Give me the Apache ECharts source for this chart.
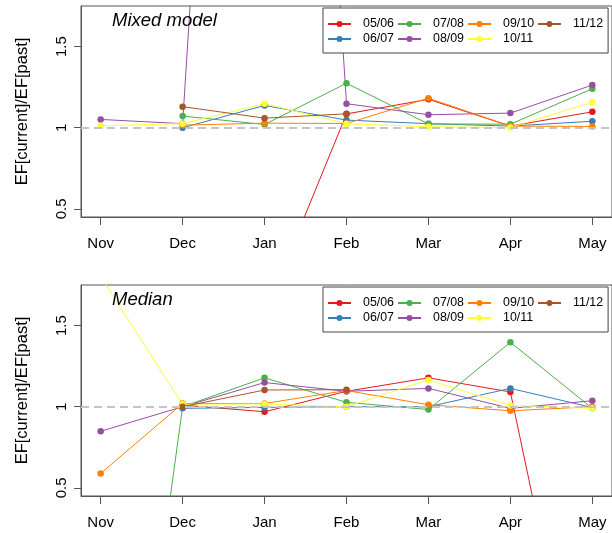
<!DOCTYPE html>
<html><head><meta charset="utf-8">
<script src="https://cdn.jsdelivr.net/npm/echarts@6/dist/echarts.min.js"></script>
<style>html,body{margin:0;padding:0;background:#fff}#c{width:612px;height:533px}</style>
</head><body><div id="c"></div>
<script>
const months = ['Nov','Dec','Jan','Feb','Mar','Apr','May'];
const seasons = ['05/06','06/07','07/08','08/09','09/10','10/11','11/12'];
const colors = ['#E41A1C','#377EB8','#4DAF4A','#984EA3','#FF7F00','#FFFF33','#A65628'];
const legendOrder = ['05/06','07/08','09/10','11/12','06/07','08/09','10/11'];
const yTicks = [0.5, 1, 1.5];
const refLine = 1;
const panelTitles = ['Mixed model', 'Median'];
const yName = 'EF[current]/EF[past]';

// Mixed model panel (Nov..May)
const mixed_0506 = [null, null, -0.15, 1.085, 1.175, 1.01, 1.098];
const mixed_0607 = [null, 1.0, 1.137, 1.047, 1.025, 1.01, 1.04];
const mixed_0708 = [null, 1.072, 1.02, 1.274, 1.023, 1.022, 1.24];
const mixed_0809 = [1.051, 1.025, 9.0, 1.148, 1.08, 1.09, 1.263];
const mixed_0910 = [null, 1.016, 1.028, 1.026, 1.182, 1.01, 1.008];
const mixed_1011 = [1.012, 1.025, 1.148, 1.025, 1.006, 1.002, 1.157];
const mixed_1112 = [null, 1.13, 1.059, 1.086, null, null, null];

// Median panel (Nov..May)
const median_0506 = [null, 1.01, 0.969, 1.095, 1.178, 1.091, -1.3];
const median_0607 = [null, 0.99, 0.996, 1.0, 1.0, 1.113, 0.995];
const median_0708 = [-2.7, 1.0, 1.178, 1.027, 0.983, 1.397, 0.99];
const median_0809 = [0.849, 1.0, 1.149, 1.095, 1.113, 0.99, 1.037];
const median_0910 = [0.589, 1.02, 1.02, 1.10, 1.012, 0.975, 1.0];
const median_1011 = [1.80, 1.015, 1.017, 1.0, 1.165, 1.008, 0.99];
const median_1112 = [null, 1.0, 1.103, 1.105, null, null, null];

const panels = [
  [mixed_0506, mixed_0607, mixed_0708, mixed_0809, mixed_0910, mixed_1011, mixed_1112],
  [median_0506, median_0607, median_0708, median_0809, median_0910, median_1011, median_1112]
];

const FONT = 'Liberation Sans';
const gridTops = [6, 285];
const gridH = 211;
const monthIdx = months.map((m, i) => i);

const grids = [], xAxes = [], yAxes = [], series = [], titles = [], legends = [];
panels.forEach((panel, p) => {
  grids.push({left: 81, right: -2, top: gridTops[p], height: gridH, show: true,
    borderColor: '#555', borderWidth: 1, backgroundColor: 'transparent'});
  xAxes.push({type: 'value', gridIndex: p, min: -0.24, max: 6.24, position: 'bottom',
    axisLine: {show: true, onZero: false, lineStyle: {color: '#555', width: 1}}, splitLine: {show: false},
    axisTick: {show: true, customValues: monthIdx, length: 8, lineStyle: {color: '#555'}},
    axisLabel: {customValues: monthIdx, formatter: v => months[Math.round(v)],
      margin: 19, fontSize: 15, color: '#000', fontFamily: FONT}});
  yAxes.push({type: 'value', gridIndex: p, min: 0.45, max: 1.75, position: 'left',
    axisLine: {show: true, onZero: false, lineStyle: {color: '#555', width: 1}}, splitLine: {show: false},
    axisTick: {show: true, customValues: yTicks, length: 7, lineStyle: {color: '#555'}},
    axisLabel: {customValues: yTicks, rotate: 90, margin: 12, fontSize: 15, color: '#000',
      fontFamily: FONT, formatter: v => String(v)},
    name: yName, nameLocation: 'middle', nameGap: 50, nameRotate: 90,
    nameTextStyle: {fontSize: 16.5, color: '#000', fontFamily: FONT}});
  titles.push({text: panelTitles[p], left: 112, top: gridTops[p] + 5, padding: 0,
    textStyle: {fontSize: 18.5, fontStyle: 'italic', fontWeight: 'normal', color: '#000', fontFamily: FONT}});
  legends.push({data: legendOrder, left: 323, top: gridTops[p] + 2, width: 300,
    orient: 'horizontal', itemWidth: 23, itemHeight: 7.5, itemGap: 3,
    padding: [10, 5, 8, 4], borderColor: '#444', borderWidth: 1, backgroundColor: '#fff',
    selectedMode: false,
    textStyle: {fontSize: 12.4, color: '#000', fontFamily: FONT, padding: [0, 0, 0, 7]}});
  panel.forEach((vals, s) => {
    const ser = {
      type: 'line', name: seasons[s], xAxisIndex: p, yAxisIndex: p,
      data: vals.map((v, i) => [i, v]),
      symbol: 'circle', symbolSize: 6.5, showSymbol: true, clip: true,
      connectNulls: false, animation: false,
      itemStyle: {color: colors[s]},
      lineStyle: {color: colors[s], width: 1}
    };
    if (s === 0) {
      ser.markLine = {silent: true, symbol: 'none', label: {show: false}, animation: false,
        lineStyle: {color: '#c4c4c4', type: [8, 5], width: 2},
        data: [{yAxis: refLine}]};
    }
    series.push(ser);
  });
});

const chart = echarts.init(document.getElementById('c'), null, {renderer: 'canvas'});
chart.setOption({
  animation: false,
  color: colors,
  title: titles,
  legend: legends,
  grid: grids,
  xAxis: xAxes,
  yAxis: yAxes,
  series: series
});
</script>
</body></html>
